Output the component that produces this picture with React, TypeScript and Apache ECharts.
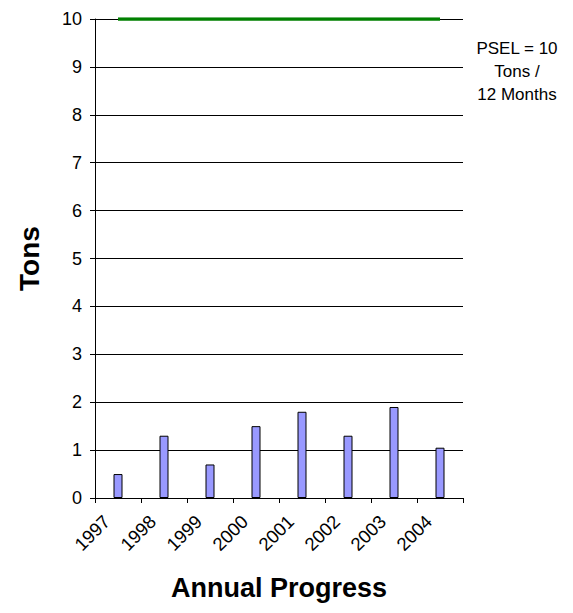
import React, { useEffect, useRef } from "react";
import * as echarts from "echarts";

const years = ["1997", "1998", "1999", "2000", "2001", "2002", "2003", "2004"];
const tons = [0.5, 1.3, 0.7, 1.5, 1.8, 1.3, 1.9, 1.05];
const psel = [10, 10, 10, 10, 10, 10, 10, 10];
const noteLines = ["PSEL = 10", "Tons /", "12 Months"];

const FONT = "'Liberation Sans', Arial, sans-serif";

export default function App() {
  const ref = useRef<HTMLDivElement>(null);

  useEffect(() => {
    if (!ref.current) return;
    const chart = echarts.init(ref.current, null, { renderer: "svg" });
    chart.setOption({
      animation: false,
      backgroundColor: "#ffffff",
      textStyle: { fontFamily: FONT },
      grid: { left: 95, right: 110, top: 19, bottom: 115, containLabel: false },
      xAxis: {
        type: "category",
        data: years,
        boundaryGap: true,
        name: "Annual Progress",
        nameLocation: "middle",
        nameGap: 76,
        nameTextStyle: { fontFamily: FONT, fontSize: 27, fontWeight: "bold", color: "#000" },
        axisLine: { show: true, lineStyle: { color: "#000", width: 1 } },
        axisTick: { show: true, alignWithLabel: false, length: 5, lineStyle: { color: "#000" } },
        axisLabel: {
          rotate: 45,
          interval: 0,
          margin: 9,
          padding: [0, 16, 0, 0],
          fontFamily: FONT,
          fontSize: 18.5,
          color: "#000",
        },
        splitLine: { show: false },
      },
      yAxis: {
        type: "value",
        min: 0,
        max: 10,
        interval: 1,
        name: "Tons",
        nameLocation: "middle",
        nameGap: 52,
        nameTextStyle: { fontFamily: FONT, fontSize: 28, fontWeight: "bold", color: "#000" },
        axisLine: { show: true, lineStyle: { color: "#000", width: 1 } },
        axisTick: { show: true, length: 5, lineStyle: { color: "#000" } },
        axisLabel: { margin: 13, fontFamily: FONT, fontSize: 18, color: "#000" },
        splitLine: { show: true, lineStyle: { color: "#000", width: 1 } },
      },
      series: [
        {
          type: "bar",
          data: tons,
          barWidth: 9,
          itemStyle: { color: "#9999FF", borderColor: "#000000", borderWidth: 1 },
        },
        {
          type: "line",
          data: psel,
          symbol: "none",
          lineStyle: { color: "#008000", width: 3.5 },
        },
      ],
      graphic: noteLines.map((t, i) => ({
        type: "text",
        style: {
          text: t,
          x: 517,
          y: 48 + i * 23,
          align: "center",
          verticalAlign: "middle",
          fontFamily: FONT,
          fontSize: 17,
          fill: "#000",
        },
      })),
    });
    return () => chart.dispose();
  }, []);

  return (
    <div
      ref={ref}
      style={{ position: "fixed", left: 0, top: 0, width: 573, height: 613 }}
    />
  );
}
